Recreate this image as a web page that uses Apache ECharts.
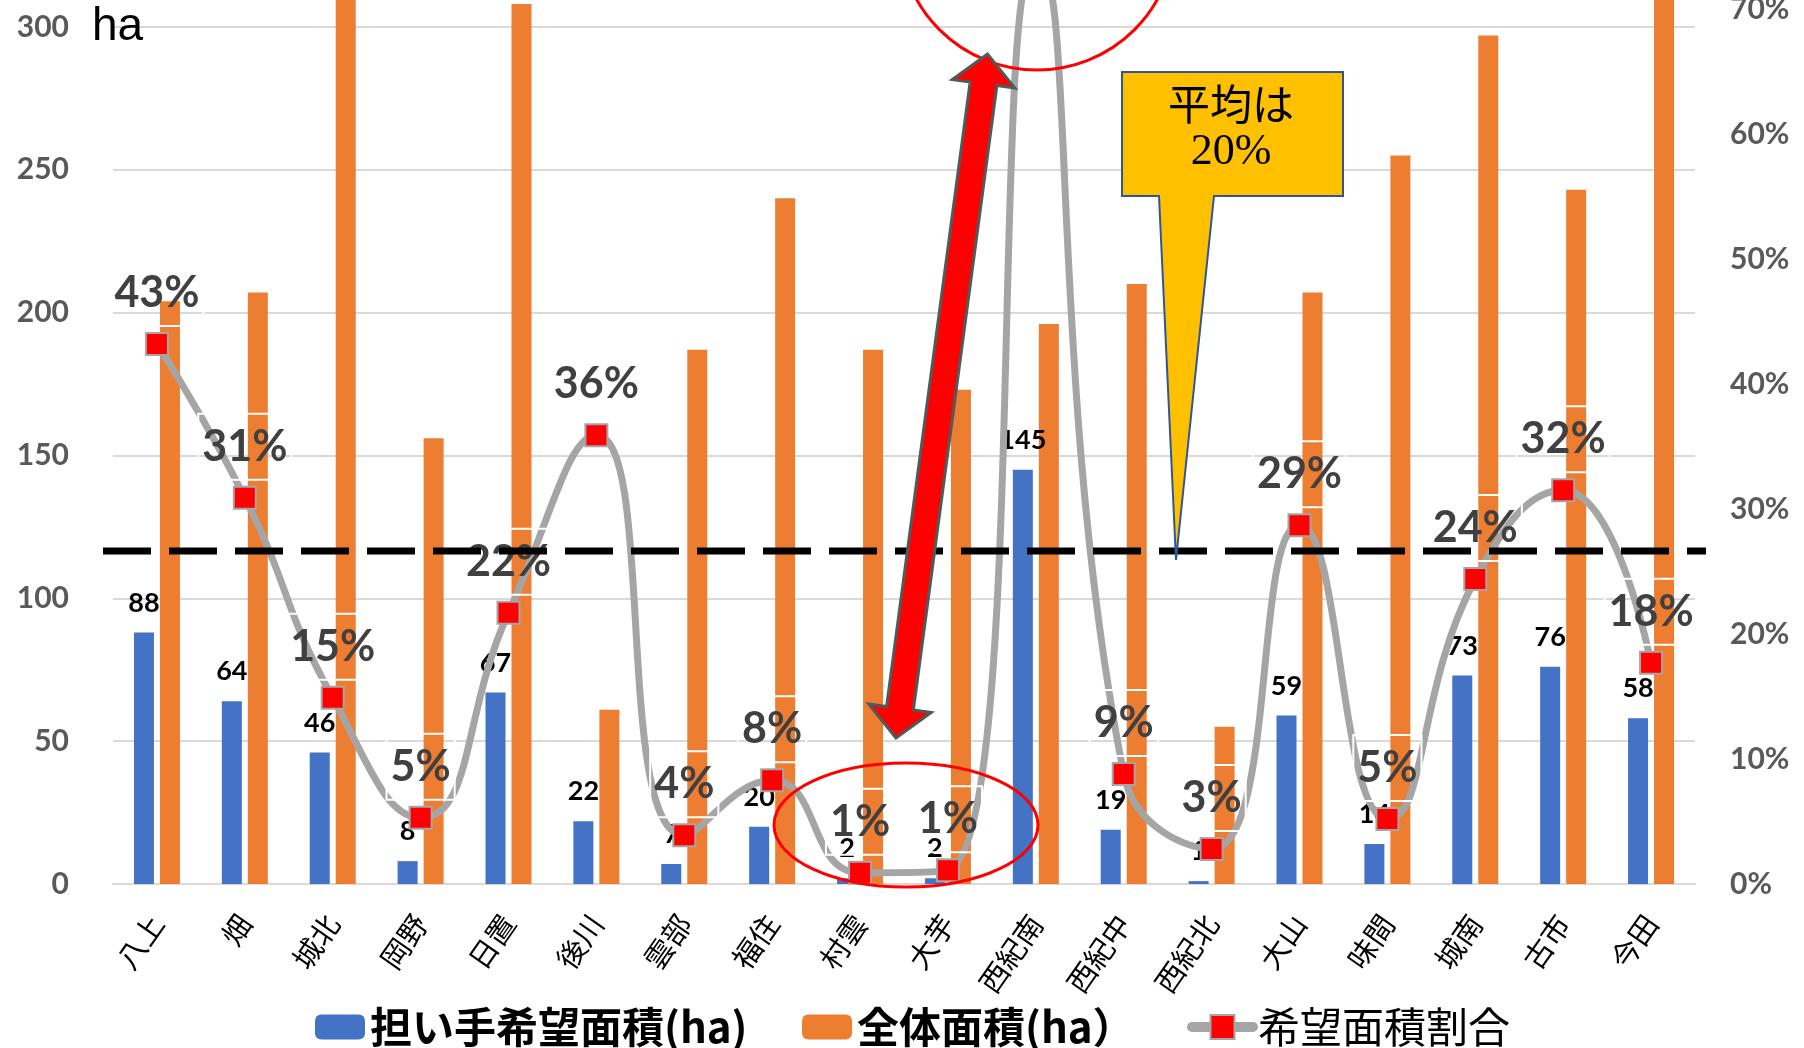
<!DOCTYPE html>
<html>
<head>
<meta charset="utf-8">
<script src="https://cdn.jsdelivr.net/npm/echarts@6/dist/echarts.min.js"></script>
<style>
html,body{margin:0;padding:0;background:#fff;}
#main{width:1804px;height:1048px;}
</style>
</head>
<body>
<div id="main"></div>
<script>
// ---- data ----
const categories = ['八上','畑','城北','岡野','日置','後川','雲部','福住','村雲','大芋','西紀南','西紀中','西紀北','大山','味間','城南','古市','今田'];
const hopeArea  = [88, 64, 46, 8, 67, 22, 7, 20, 2, 2, 145, 19, 1, 59, 14, 73, 76, 58];
const totalArea = [204, 207, 312, 156, 308, 61, 187, 240, 187, 173, 196, 210, 55, 207, 255, 297, 243, 322];
const hopeRatio = [0.432, 0.309, 0.149, 0.053, 0.217, 0.359, 0.039, 0.083, 0.009, 0.011, 0.74, 0.088, 0.028, 0.287, 0.052, 0.244, 0.315, 0.177];
const seriesNames = ['担い手希望面積(ha)', '全体面積(ha）', '希望面積割合'];
const leftTicks = {min: 0, max: 350, interval: 50};
const rightTicks = {min: 0, max: 0.8, interval: 0.1};

const NUM_FONT = "Lato, 'Liberation Sans', sans-serif";
const CJK_FONT = "'Noto Sans CJK JP', sans-serif";

// annotation arrow polygon (double-headed) between two tip points
function arrowPoints(p0, p1, sw, hw, hl) {
  const dx = p1[0] - p0[0], dy = p1[1] - p0[1];
  const L = Math.hypot(dx, dy);
  const ux = dx / L, uy = dy / L, nx = -uy, ny = ux;
  const pt = (a, b) => [p0[0] + ux * a + nx * b, p0[1] + uy * a + ny * b];
  return [pt(0,0), pt(hl,-hw), pt(hl,-sw), pt(L-hl,-sw), pt(L-hl,-hw), pt(L,0),
          pt(L-hl,hw), pt(L-hl,sw), pt(hl,sw), pt(hl,hw)];
}

const chart = echarts.init(document.getElementById('main'), null, {renderer: 'canvas'});

const legendBase = {
  orient: 'horizontal', top: 1006, padding: 0, itemGap: 0,
  itemWidth: 50, itemHeight: 25,
  textStyle: {fontFamily: CJK_FONT, fontSize: 42, color: '#000', fontWeight: 'bold'}
};

const option = {
  animation: false,
  backgroundColor: '#fff',
  grid: {left: 113, right: 109, top: -116, bottom: 164, outerBoundsMode: 'none', containLabel: false},
  legend: [
    Object.assign({}, legendBase, {left: 315, data: [seriesNames[0]]}),
    Object.assign({}, legendBase, {left: 802, data: [seriesNames[1]]}),
    Object.assign({}, legendBase, {left: 1187, itemWidth: 61, itemHeight: 30, data: [seriesNames[2]],
      lineStyle: {width: 10, color: '#A5A5A5', cap: 'round'},
      textStyle: {fontFamily: CJK_FONT, fontSize: 42, color: '#000', fontWeight: 'normal'}})
  ],
  xAxis: {
    type: 'category',
    data: categories,
    axisLine: {show: true, lineStyle: {color: '#D9D9D9', width: 2}},
    axisTick: {show: false},
    axisLabel: {interval: 0, rotate: 55, margin: 34, fontFamily: CJK_FONT, fontSize: 29, color: '#000'}
  },
  yAxis: [
    {
      type: 'value', min: leftTicks.min, max: leftTicks.max, interval: leftTicks.interval,
      axisLine: {show: false}, axisTick: {show: false},
      splitLine: {lineStyle: {color: '#D9D9D9', width: 2}},
      axisLabel: {margin: 44, fontFamily: NUM_FONT, fontSize: 30, fontWeight: 'bold', color: '#595959'}
    },
    {
      type: 'value', min: rightTicks.min, max: rightTicks.max, interval: rightTicks.interval,
      axisLine: {show: false}, axisTick: {show: false}, splitLine: {show: false},
      axisLabel: {margin: 35, fontFamily: NUM_FONT, fontSize: 30, fontWeight: 'bold', color: '#595959',
        formatter: v => Math.round(v * 100) + '%'}
    }
  ],
  series: [
    {
      name: seriesNames[0], type: 'bar', yAxisIndex: 0, data: hopeArea,
      barWidth: 20, barGap: '30%',
      itemStyle: {color: '#4472C4'},
      label: {show: true, position: 'top', distance: 16, fontFamily: NUM_FONT, fontSize: 27,
        fontWeight: 'bold', color: '#000'}
    },
    {
      name: seriesNames[1], type: 'bar', yAxisIndex: 0, data: totalArea,
      barWidth: 20, barGap: '30%',
      itemStyle: {color: '#ED7D31'}
    },
    {
      name: seriesNames[2], type: 'line', yAxisIndex: 1, data: hopeRatio,
      smooth: 0.5, clip: true,
      lineStyle: {color: '#A5A5A5', width: 7},
      symbol: 'rect', symbolSize: 22,
      itemStyle: {color: '#FF0000', borderColor: '#A5A5A5', borderWidth: 2},
      z: 5,
      label: {
        show: true, position: 'inside', offset: [0, -51],
        formatter: p => Math.round(p.value * 100) + '%',
        fontFamily: NUM_FONT, fontSize: 43, fontWeight: 'bold', color: '#404040',
        lineHeight: 50, padding: [8, 4], borderColor: '#FFFFFF', borderWidth: 2
      }
    }
  ],
  graphic: [
    {type: 'text', left: 92, top: 4, z: 100,
      style: {text: 'ha', font: "46px 'Liberation Sans', Arial, sans-serif", fill: '#000'}},
    {type: 'line', z: 90, shape: {x1: 103, y1: 551, x2: 1706, y2: 551},
      style: {stroke: '#000', lineWidth: 7, lineDash: [48, 18]}},
    {type: 'ellipse', z: 95, shape: {cx: 906, cy: 825, rx: 132, ry: 62},
      style: {fill: 'none', stroke: '#FF0000', lineWidth: 3}},
    {type: 'circle', z: 95, shape: {cx: 1037, cy: -68, r: 138},
      style: {fill: 'none', stroke: '#FF0000', lineWidth: 3}},
    {type: 'polygon', z: 100,
      shape: {points: arrowPoints([896, 738], [987.5, 54], 13.5, 31.5, 30)},
      style: {fill: '#FF0000', stroke: '#4F5B5B', lineWidth: 3, lineJoin: 'miter'}},
    {type: 'polygon', z: 100,
      shape: {points: [[1122,72],[1343,72],[1343,196],[1214,196],[1176,560],[1159,196],[1122,196]]},
      style: {fill: '#FFC000', stroke: '#2F5597', lineWidth: 2}},
    {type: 'text', z: 101, x: 1231, y: 109,
      style: {text: '平均は', font: "42px 'Liberation Serif', 'Noto Sans CJK JP', serif", fill: '#000',
        textAlign: 'center', textVerticalAlign: 'middle'}},
    {type: 'text', z: 101, x: 1231, y: 152,
      style: {text: '20%', font: "44px 'Liberation Serif', 'Noto Sans CJK JP', serif", fill: '#000',
        textAlign: 'center', textVerticalAlign: 'middle'}}
  ]
};
chart.setOption(option);
</script>
</body>
</html>
